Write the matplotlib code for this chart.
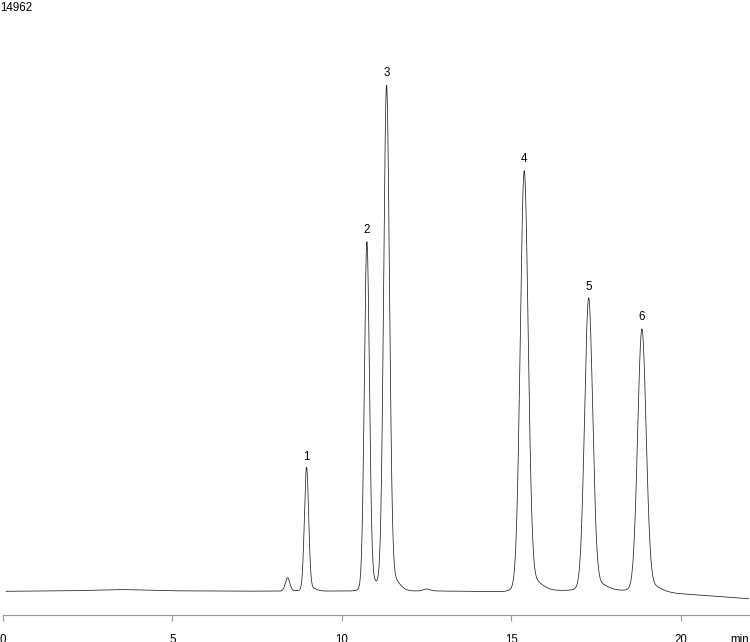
import numpy as np
import matplotlib
matplotlib.use("Agg")
import matplotlib.pyplot as plt

# ---- data ----
peak_labels = ["", "1", "2", "3", "", "4", "5", "6"]
peak_times = [8.40, 8.96, 10.74, 11.32, 12.50, 15.38, 17.28, 18.85]   # min
peak_heights = [340, 3150, 8880, 12850, 50, 10690, 7440, 6680]      # signal units
peak_sigmas = [0.065, 0.062, 0.074, 0.085, 0.10, 0.116, 0.118, 0.124]  # min

baseline_times = [0.1, 2.0, 3.5, 5.0, 7.0, 10.0, 12.8, 14.8, 16.0, 18.0, 19.5, 22.0]
baseline_values = [0, 13, 45, 13, 3, 8, 8, -10, 20, 25, -30, -187]

x_ticks = [0, 5, 10, 15, 20]
y_max_label = "14962"
y_max = 14962
y_min = -607
x_max = 22.0

# ---- build trace from the peak table ----
t = np.linspace(0.1, x_max, 6000)
signal = np.interp(t, baseline_times, baseline_values)
for rt, h, s in zip(peak_times, peak_heights, peak_sigmas):
    core = 0.97 * np.exp(-0.5 * ((t - rt) / s) ** 2)
    tail = 0.03 * np.exp(-0.5 * ((t - rt - 1.5 * s) / (2.5 * s)) ** 2)
    signal = signal + h * (core + tail)

W, H = 750, 642
fig = plt.figure(figsize=(W / 100, H / 100), dpi=100)
left = 2.7 / W
right = 748.7 / W
bottom = (H - 615.3) / H
ax = fig.add_axes([left, bottom, right - left, 1 - bottom])
ax.set_xlim(0, x_max)
ax.set_ylim(y_min, y_max)

ax.plot(t, signal, color="#222222", linewidth=0.55)

for lab, rt, h in zip(peak_labels, peak_times, peak_heights):
    if lab:
        ax.annotate(lab, xy=(rt, h), xytext=(0, 7), textcoords="offset pixels",
                    ha="center", va="baseline", fontsize=8.3,
                    family="Liberation Sans", color="black")

for sp in ["top", "right", "left"]:
    ax.spines[sp].set_visible(False)
ax.spines["bottom"].set_color("#999999")
ax.spines["bottom"].set_linewidth(0.8)
ax.set_yticks([])
ax.set_xticks(x_ticks)
ax.set_xticklabels([str(v) for v in x_ticks])
ax.tick_params(axis="x", direction="out", length=4, width=0.8, color="#999999",
               pad=9.3, labelsize=8.3, labelcolor="black")
for lbl in ax.get_xticklabels():
    lbl.set_fontfamily("Liberation Sans")

fig.text(748.7 / W, 1 - 634.0 / H, "min", ha="right", va="top", fontsize=8.3,
         family="Liberation Sans", color="black")
fig.text(0.5 / W, 1 - 2.0 / H, y_max_label, ha="left", va="top", fontsize=8.3,
         family="Liberation Sans", color="black")

fig.savefig("out.png", dpi=100)
